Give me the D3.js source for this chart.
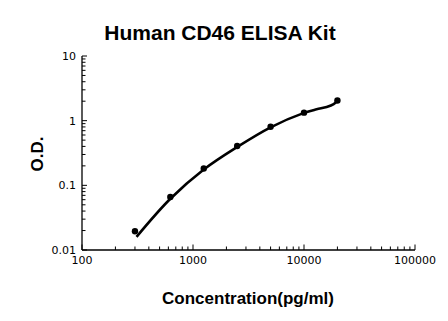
<!DOCTYPE html>
<html>
<head>
<meta charset="utf-8">
<script src="https://cdn.jsdelivr.net/npm/d3@7"></script>
<style>
  body { margin: 0; background: #fff; }
  svg { display: block; }
</style>
</head>
<body>
<div id="chart"></div>
<script>
const width = 448;
const height = 321;

// standard points
const concentrations = [300, 625, 1250, 2500, 5000, 10000, 20000];
const odValues = [0.0195, 0.066, 0.182, 0.405, 0.805, 1.33, 2.05];

// fitted curve
const curveConc = [310, 625, 1250, 2500, 5000, 10000, 13000, 16000, 18500, 20000];
const curveOd = [0.016, 0.062, 0.176, 0.392, 0.79, 1.32, 1.5, 1.63, 1.8, 2.02];

const xTickValues = [100, 1000, 10000, 100000];
const yTickValues = [0.01, 0.1, 1, 10];

const svg = d3.select("#chart").append("svg").attr("width", width).attr("height", height);

const x = d3.scaleLog().domain([100, 100000]).range([82, 415]);
const y = d3.scaleLog().domain([0.01, 10]).range([250, 56]);

// minor ticks 2..9 in every decade
function minorTicks(lo, hi) {
    const out = [];
    for (let d = lo; d < hi; d *= 10) {
        for (let k = 2; k <= 9; k++) out.push(d * k);
    }
    return out;
}

const font = "'DejaVu Sans', Verdana, sans-serif";
const titleFont = "'Liberation Sans', Arial, sans-serif";

// x axis
const xAxis = svg.append("g").attr("transform", "translate(0,250)");
xAxis.append("line").attr("x1", x.range()[0]).attr("x2", x.range()[1])
    .attr("stroke", "#000").attr("stroke-width", 1.3);
xAxis.selectAll(".major").data(xTickValues).enter().append("line")
    .attr("x1", d => x(d)).attr("x2", d => x(d)).attr("y1", 0).attr("y2", -5.5)
    .attr("stroke", "#000").attr("stroke-width", 1);
xAxis.selectAll(".minor").data(minorTicks(100, 100000)).enter().append("line")
    .attr("x1", d => x(d)).attr("x2", d => x(d)).attr("y1", 0).attr("y2", -3.5)
    .attr("stroke", "#000").attr("stroke-width", 1);
xAxis.selectAll("text").data(xTickValues).enter().append("text")
    .attr("x", d => x(d)).attr("y", 14).attr("text-anchor", "middle")
    .style("font-family", font).style("font-size", "11px").attr("fill", "#000")
    .text(d => d);

// y axis
const yAxis = svg.append("g").attr("transform", "translate(82,0)");
yAxis.append("line").attr("y1", y.range()[0]).attr("y2", y.range()[1])
    .attr("stroke", "#000").attr("stroke-width", 1.3);
yAxis.selectAll(".major").data(yTickValues).enter().append("line")
    .attr("y1", d => y(d)).attr("y2", d => y(d)).attr("x1", 0).attr("x2", 5)
    .attr("stroke", "#000").attr("stroke-width", 1);
yAxis.selectAll(".minor").data(minorTicks(0.01, 10)).enter().append("line")
    .attr("y1", d => y(d)).attr("y2", d => y(d)).attr("x1", 0).attr("x2", 3.5)
    .attr("stroke", "#000").attr("stroke-width", 1);
yAxis.selectAll("text").data(yTickValues).enter().append("text")
    .attr("x", -6).attr("y", d => y(d)).attr("dy", "0.35em").attr("text-anchor", "end")
    .style("font-family", font).style("font-size", "11px").attr("fill", "#000")
    .text(d => d);

// fitted curve
const line = d3.line().x(d => x(d[0])).y(d => y(d[1])).curve(d3.curveCatmullRom);
svg.append("path")
    .datum(d3.zip(curveConc, curveOd))
    .attr("d", line)
    .attr("fill", "none").attr("stroke", "#000").attr("stroke-width", 2.6);

// standard points
svg.selectAll(".pt").data(d3.zip(concentrations, odValues)).enter().append("circle")
    .attr("cx", d => x(d[0])).attr("cy", d => y(d[1])).attr("r", 3.2).attr("fill", "#000");

// titles
svg.append("text").attr("x", 220).attr("y", 40).attr("text-anchor", "middle")
    .style("font-family", titleFont).style("font-weight", "bold")
    .style("font-size", "21px").text("Human CD46 ELISA Kit");

svg.append("text").attr("x", 248).attr("y", 304).attr("text-anchor", "middle")
    .style("font-family", titleFont).style("font-weight", "bold")
    .style("font-size", "17px").text("Concentration(pg/ml)");

svg.append("text").attr("transform", "translate(43,154) rotate(-90)").attr("text-anchor", "middle")
    .style("font-family", titleFont).style("font-weight", "bold")
    .style("font-size", "17px").text("O.D.");
</script>
</body>
</html>
